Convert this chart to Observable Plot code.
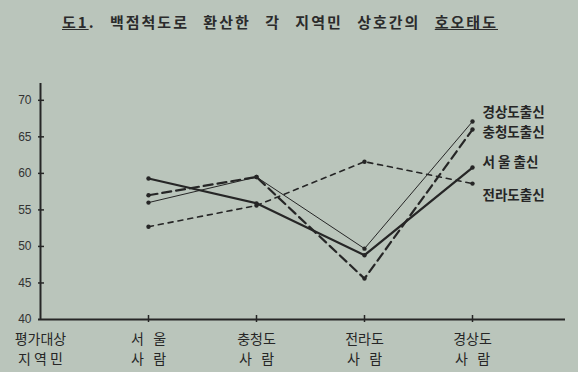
<!DOCTYPE html>
<html><head><meta charset="utf-8">
<script src="https://cdn.jsdelivr.net/npm/d3@7"></script>
<script src="https://cdn.jsdelivr.net/npm/@observablehq/plot@0.6"></script>
<style>
html,body{margin:0;padding:0;background:#bac5bb;overflow:hidden;}
#title{height:40px;box-sizing:border-box;padding:13px 0 0 62px;font:bold 15px "Noto Sans CJK KR",sans-serif;color:#2b2b2b;letter-spacing:2px;word-spacing:9px;white-space:nowrap;line-height:18px}
#chart svg{display:block}
</style></head><body>
<div id="title"><u>도1</u>. 백점척도로 환산한 각 지역민 상호간의 <u>호오태도</u></div>
<div id="chart"></div>
<script>
// Data
const xKeys = ["평가대상", "서울", "충청도", "전라도", "경상도"];
const targets = ["서울", "충청도", "전라도", "경상도"];
const xLabelTop = ["평가대상", "서   울", "충청도", "전라도", "경상도"];
const xLabelBottom = ["지 역 민", "사   람", "사   람", "사   람", "사   람"];
const yTicks = [40, 45, 50, 55, 60, 65, 70];

const seriesNames = ["서울출신", "충청도출신", "전라도출신", "경상도출신"];
const seriesLabels = ["서 울 출신", "충청도출신", "전라도출신", "경상도출신"];
const seoulValues = [59.3, 55.9, 48.8, 60.8];
const chungcheongValues = [57.0, 59.5, 45.6, 66.0];
const jeollaValues = [52.7, 55.6, 61.6, 58.6];
const gyeongsangValues = [56.0, 59.5, 49.7, 67.1];

const valuesBySeries = [seoulValues, chungcheongValues, jeollaValues, gyeongsangValues];
const styles = {
  "서울출신": {strokeWidth: 2.2, strokeDasharray: null, dy: -5},
  "충청도출신": {strokeWidth: 2.2, strokeDasharray: "9,5", dy: 3},
  "전라도출신": {strokeWidth: 1.6, strokeDasharray: "5,5", dy: 12},
  "경상도출신": {strokeWidth: 1, strokeDasharray: null, dy: -9}
};

const rows = [];
seriesNames.forEach((s, i) => targets.forEach((t, j) => rows.push({series: s, target: t, value: valuesBySeries[i][j]})));
const xLabelRows = xKeys.map((k, i) => ({key: k, label: xLabelTop[i] + "\n" + xLabelBottom[i]}));

const ink = "#262626";
const W = 578, H = 332, mL = 38, mR = 13, mT = 43, mB = 53;
const frameW = W - mL - mR, frameH = H - mT - mB;

const marks = [
  Plot.axisY(yTicks, {tickSize: 0, tickPadding: 7, fontSize: 12, fontFamily: "'Liberation Sans', sans-serif", fill: "#333", label: null}),
  Plot.tickY(yTicks.slice(1), {insetRight: frameW - 6, stroke: ink, strokeWidth: 1.5}),
  Plot.tickX(targets, {x: d => d, insetTop: frameH - 4, insetBottom: -3, stroke: ink, strokeWidth: 1.5}),
  Plot.ruleX([xKeys[0]], {x: d => d, stroke: ink, strokeWidth: 2}),
  Plot.ruleY([40], {stroke: ink, strokeWidth: 2}),
  Plot.text(xLabelRows, {x: "key", text: "label", frameAnchor: "bottom", lineAnchor: "top", dy: 11, lineHeight: 1.4, fontSize: 14, fill: ink})
];
seriesNames.forEach((s, i) => {
  const data = rows.filter(r => r.series === s);
  const st = styles[s];
  marks.push(Plot.line(data, {x: "target", y: "value", stroke: ink, strokeWidth: st.strokeWidth, strokeDasharray: st.strokeDasharray}));
  marks.push(Plot.dot(data, {x: "target", y: "value", r: 2.2, fill: ink}));
  marks.push(Plot.text(data.slice(-1), {x: "target", y: "value", text: () => seriesLabels[i], textAnchor: "start", dx: 10, dy: st.dy, fontSize: 13.5, fontWeight: "bold", fill: ink}));
});

const chart = Plot.plot({
  width: W, height: H,
  marginLeft: mL, marginRight: mR, marginTop: mT, marginBottom: mB,
  style: {background: "transparent", color: ink, fontFamily: "'Noto Sans CJK KR', sans-serif"},
  x: {type: "point", domain: xKeys, range: [mL, 473], padding: 0, axis: null},
  y: {domain: [40, 72.3]},
  marks
});
document.getElementById("chart").append(chart);
</script>
</body></html>
